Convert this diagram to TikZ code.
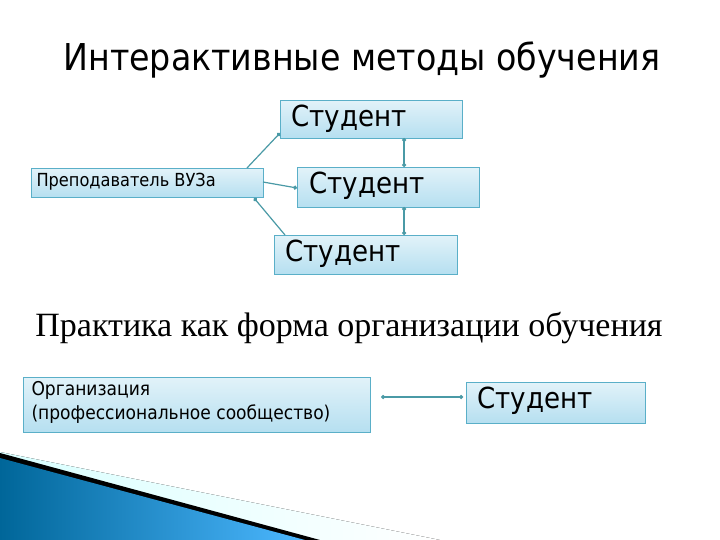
\documentclass[tikz,border=0pt]{standalone}
\usepackage{fontspec}
\setmainfont{DejaVu Sans Condensed}
\newfontfamily\serifx{Liberation Serif}
\usetikzlibrary{arrows.meta}
\definecolor{boxfill}{HTML}{B5DFF0}
\definecolor{boxedge}{HTML}{5AAFC8}
\definecolor{conn}{HTML}{4A9AA6}
\tikzset{
 bx/.style={draw=boxedge,line width=1.2pt,top color=boxfill!40,bottom color=boxfill,anchor=north west,inner sep=0pt},
 cn/.style={draw=conn,line width=1.2pt,-{Circle[length=4pt]}},
 cnb/.style={draw=conn,line width=1.2pt,{Circle[length=4pt]}-{Circle[length=4pt]}},
}
\begin{document}
\begin{tikzpicture}[x=1pt,y=-1pt]
\useasboundingbox (0,0) rectangle (720,540);
\fill[white] (0,0) rectangle (720,540);
% bottom-left decoration
\fill[left color=cyan!15, right color=white] (0,452) -- (440,540) -- (0,540) -- cycle;
\fill[black] (0,453) -- (320,540) -- (0,540) -- cycle;
\fill[left color=teal!80!blue, right color=cyan!60!blue!70] (0,458) -- (305,540) -- (0,540) -- cycle;
% titles
\node[anchor=center,font=\fontsize{37}{40}\selectfont] (t1) at (362,60) {Интерактивные методы обучения};
\node[anchor=center,font=\serifx\fontsize{34}{36}\selectfont] (t2) at (349,328) {Практика как форма организации обучения};
% boxes
\node[bx,minimum width=182pt,minimum height=38pt] (s1) at (280,100) {};
\node[anchor=west,font=\fontsize{29}{31}\selectfont] at (288,119) {Студент};
\node[bx,minimum width=232pt,minimum height=29pt] (t) at (31,168) {};
\node[anchor=west,font=\fontsize{18}{20}\selectfont] at (33,182) {Преподаватель ВУЗа};
\node[bx,minimum width=182pt,minimum height=40pt] (s2) at (297,167) {};
\node[anchor=west,font=\fontsize{29}{31}\selectfont] at (306,186) {Студент};
\node[bx,minimum width=183pt,minimum height=39pt] (s3) at (274,235) {};
\node[anchor=west,font=\fontsize{29}{31}\selectfont] at (282,254) {Студент};
\node[bx,minimum width=347pt,minimum height=55pt] (o) at (23,377) {};
\node[anchor=north west,align=left,font=\fontsize{19}{24}\selectfont] at (28,378) {Организация\\(профессиональное сообщество)};
\node[bx,minimum width=179pt,minimum height=41pt] (s4) at (466,382) {};
\node[anchor=west,font=\fontsize{29}{31}\selectfont] at (474,401) {Студент};
% connectors
\coordinate (a1) at (247,168); \coordinate (b1) at (280,133);
\draw[cn] (a1) -- (b1);
\coordinate (a2) at (263,182); \coordinate (b2) at (297,188);
\draw[cn] (a2) -- (b2);
\coordinate (a3) at (285,235); \coordinate (b3) at (254,198);
\draw[cn] (a3) -- (b3);
\coordinate (c1) at (404,138); \coordinate (c2) at (404,167);
\draw[cnb] (c1) -- (c2);
\coordinate (c3) at (404,207); \coordinate (c4) at (404,235);
\draw[cnb] (c3) -- (c4);
\coordinate (d1) at (381,397); \coordinate (d2) at (463,397);
\draw[cnb] (d1) -- (d2);
\end{tikzpicture}
\end{document}
